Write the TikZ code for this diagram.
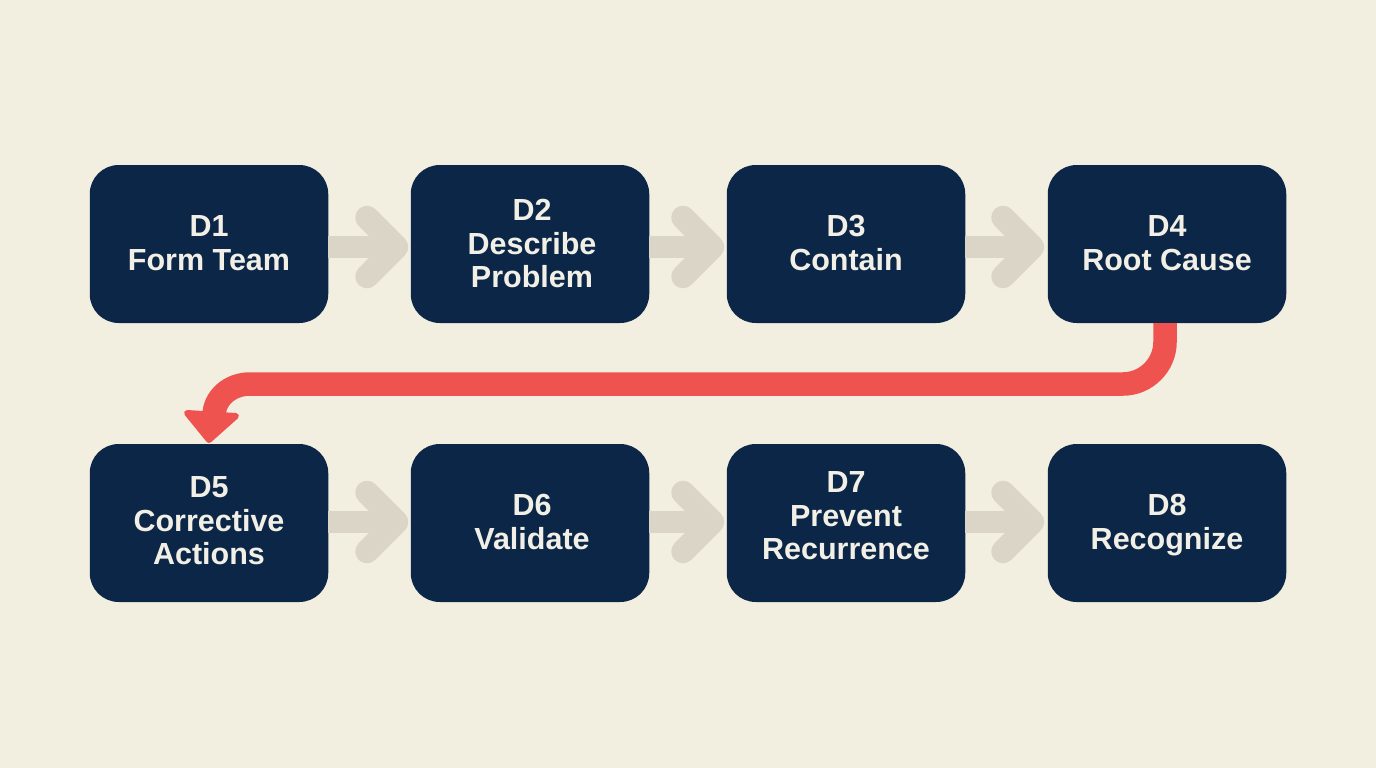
\documentclass[tikz,border=0pt]{standalone}
\usepackage{fontspec}
\setmainfont{Liberation Sans}
\usetikzlibrary{calc}
\definecolor{bgc}{HTML}{F2EFE1}
\definecolor{navy}{HTML}{0C2647}
\definecolor{stepgray}{HTML}{DAD5C6}
\definecolor{redc}{HTML}{EF5350}
\definecolor{txt}{HTML}{F2F0E6}
\tikzset{
  stepbox/.style={fill=navy,rounded corners=29pt,minimum width=238.5pt,minimum height=158pt,inner sep=0pt,
    text=txt,font=\bfseries\fontsize{30.5}{33.5}\selectfont},
  grayline/.style={draw=stepgray,line width=22.5pt},
  chev/.style={draw=stepgray,line width=23.5pt,line cap=round,line join=round},
  redline/.style={draw=redc,line width=23.5pt},
  redhead/.style={fill=redc,draw=redc,line width=6pt,line join=round}
}
\newcommand{\stepflow}[2]{%
  \draw[grayline] (#1.east |- #2) -- (#2);
  \draw[chev] ($(#2)+(-29.5pt,-29.5pt)$) -- (#2) -- ($(#2)+(-29.5pt,29.5pt)$);
}
% text of a box: #1 = doubled x offset, #2 = raise, #3 = lines
\newcommand{\lbl}[3]{\hspace*{#1}\raisebox{#2}[\height][\depth]{\begin{tabular}{@{}c@{}}#3\end{tabular}}}
\begin{document}
\begin{tikzpicture}[x=1pt,y=-1pt]
\useasboundingbox (0,0) rectangle (1376,768);
\fill[bgc] (0,0) rectangle (1376,768);
\node[stepbox] (d1) at (209,244) {\lbl{0pt}{-2.6pt}{D1\\Form Team}};
\node[stepbox] (d2) at (530,244) {\lbl{4pt}{-3.6pt}{D2\\Describe\\Problem}};
\node[stepbox] (d3) at (846,244) {\lbl{0pt}{-2.6pt}{D3\\Contain}};
\node[stepbox] (d4) at (1167,244) {\lbl{0pt}{-2.6pt}{D4\\Root Cause}};
\node[stepbox] (d5) at (209,523) {\lbl{0pt}{-1.6pt}{D5\\Corrective\\Actions}};
\node[stepbox] (d6) at (530,523) {\lbl{4pt}{-2.6pt}{D6\\Validate}};
\node[stepbox] (d7) at (846,523) {\lbl{0pt}{3.4pt}{D7\\Prevent\\Recurrence}};
\node[stepbox] (d8) at (1167,523) {\lbl{0pt}{-2.6pt}{D8\\Recognize}};
\coordinate (a1) at (396.5,247);
\coordinate (a2) at (712.5,247);
\coordinate (a3) at (1032.5,247);
\coordinate (a5) at (396.5,522);
\coordinate (a6) at (712.5,522);
\coordinate (a7) at (1032.5,522);
\stepflow{d1}{a1}
\stepflow{d2}{a2}
\stepflow{d3}{a3}
\stepflow{d5}{a5}
\stepflow{d6}{a6}
\stepflow{d7}{a7}
\coordinate (r1) at (1165,384);
\coordinate (r2) at (250,384);
\coordinate (r3) at (214,416);
\coordinate (h1) at (187,413);
\coordinate (h2) at (236,416);
\coordinate (h3) at (209,440);
\draw[redline] (d4.south -| r1) -- (1165,342) .. controls (1165,365) and (1146,384) .. (1123,384) -- (r2) .. controls (230,384) and (214,398) .. (r3);
\filldraw[redhead] (h1) -- (h2) -- (h3) -- cycle;
\end{tikzpicture}
\end{document}
